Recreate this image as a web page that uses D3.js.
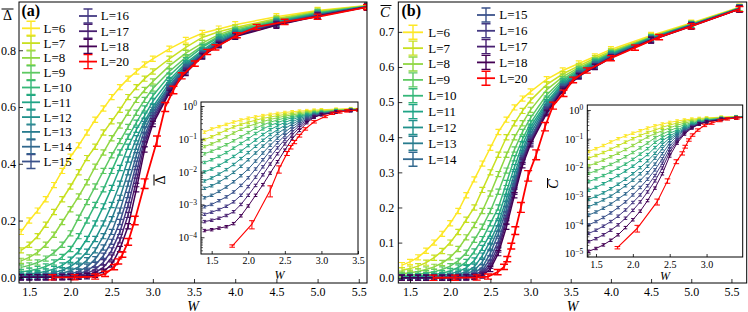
<!DOCTYPE html>
<html><head><meta charset="utf-8">
<script src="https://cdn.jsdelivr.net/npm/d3@7"></script>
<style>body{margin:0;background:#fff} svg{display:block} text{font-family:"Liberation Serif","LiberationSerif","DejaVu Serif",serif}</style>
</head><body><svg id="c" width="748" height="312"></svg>
<script>
// ---------------- DATA ----------------
const Wgrid = [1.4,1.5,1.6,1.7,1.8,1.9,2.0,2.1,2.2,2.3,2.4,2.5,2.6,2.7,2.8,2.9,3.0,3.2,3.4,3.6,3.8,4.0,4.5,5.0,5.6];
const Lvals = [6,7,8,9,10,11,12,13,14,15,16,17,18];

// panel (a): mean Delta
const dL6  = [.16,.20,.235,.275,.325,.375,.425,.465,.51,.555,.595,.635,.67,.70,.725,.75,.77,.805,.835,.86,.875,.89,.918,.94,.958];
const dL7  = [.095,.115,.145,.185,.23,.275,.32,.37,.42,.46,.51,.55,.59,.635,.67,.70,.725,.77,.81,.845,.865,.88,.912,.937,.957];
const dL8  = [.058,.07,.088,.115,.15,.195,.24,.285,.335,.39,.44,.49,.535,.58,.625,.66,.69,.745,.79,.825,.855,.875,.908,.934,.956];
const dL9  = [.035,.042,.052,.066,.087,.115,.155,.21,.265,.32,.375,.43,.48,.53,.58,.625,.665,.725,.775,.815,.85,.87,.905,.932,.955];
const dL10 = [.019,.023,.029,.038,.052,.072,.10,.145,.20,.255,.31,.375,.44,.495,.545,.595,.64,.71,.765,.81,.845,.866,.902,.93,.955];
const dL11 = [.0098,.012,.0155,.021,.029,.042,.062,.092,.135,.19,.25,.315,.385,.46,.52,.57,.62,.695,.755,.80,.84,.862,.90,.928,.954];
const dL12 = [.0052,.0064,.0084,.0115,.0165,.025,.038,.059,.09,.135,.19,.255,.33,.415,.49,.55,.60,.685,.75,.795,.835,.86,.898,.926,.954];
const dL13 = [.0031,.0037,.0048,.0066,.0095,.0145,.023,.037,.06,.095,.145,.205,.28,.37,.46,.54,.59,.675,.745,.79,.83,.857,.896,.925,.953];
const dL14 = [.0016,.0019,.0025,.0034,.0049,.0075,.012,.021,.037,.064,.105,.16,.235,.33,.43,.52,.58,.67,.74,.787,.827,.855,.894,.924,.953];
const dL15 = [.00085,.001,.0013,.0017,.0024,.0038,.0065,.012,.023,.043,.076,.125,.195,.29,.40,.50,.57,.665,.735,.785,.825,.853,.892,.923,.953];
const dL16 = [.0005,.00058,.0007,.00088,.0012,.0019,.0035,.0068,.014,.028,.053,.095,.16,.255,.37,.485,.56,.66,.73,.783,.823,.851,.891,.922,.952];
const dL17 = [.0003,.00033,.00038,.00046,.0006,.001,.0019,.0038,.008,.017,.035,.07,.13,.22,.34,.47,.55,.655,.725,.78,.82,.85,.89,.921,.952];
const dL18 = [.00016,.00017,.00019,.00021,.00026,.00045,.0009,.0019,.004,.009,.02,.045,.10,.18,.31,.45,.54,.65,.72,.778,.818,.848,.888,.92,.952];
const dRedW = [1.78,2.05,2.3,2.42,2.53,2.58,2.63,2.7,2.78,2.9,3.05,3.15,3.25,3.35,3.51,3.66,3.76,4.02,4.26,4.6,5.0,5.6];
const dRed   = [5.4e-5,2.5e-4,2.7e-3,.012,.036,.056,.08,.125,.20,.33,.48,.60,.66,.71,.753,.794,.81,.853,.882,.90,.918,.952];
const dRedErr= [4e-6,7e-5,1e-3,3e-3,5e-3,7e-3,9e-3,.012,.015,.017,.018,.016,.013,.011,.009,.008,.007,.006,.005,.004,.004,.003];

// panel (b): mean C
const cL6  = [.036,.045,.058,.077,.10,.125,.155,.19,.235,.28,.325,.37,.415,.45,.485,.51,.53,.565,.59,.61,.63,.65,.69,.725,.77];
const cL7  = [.021,.026,.033,.043,.057,.076,.10,.13,.165,.20,.25,.30,.35,.40,.44,.475,.505,.55,.58,.603,.625,.645,.687,.723,.769];
const cL8  = [.0115,.014,.018,.0235,.031,.042,.058,.082,.115,.15,.19,.24,.295,.35,.40,.44,.478,.535,.572,.598,.62,.642,.685,.722,.768];
const cL9  = [.0062,.0076,.0097,.0127,.017,.0235,.033,.048,.071,.108,.145,.19,.245,.305,.365,.415,.455,.52,.565,.594,.617,.64,.684,.721,.768];
const cL10 = [.0032,.004,.0052,.0069,.0094,.013,.019,.029,.045,.075,.11,.155,.20,.27,.34,.395,.44,.51,.56,.59,.615,.638,.683,.72,.767];
const cL11 = [.0016,.002,.0027,.0037,.0052,.0075,.011,.0175,.028,.049,.085,.125,.175,.245,.315,.38,.43,.50,.555,.587,.613,.636,.682,.72,.767];
const cL12 = [.00077,.00098,.0013,.0018,.0026,.0039,.006,.0098,.017,.031,.063,.105,.155,.225,.295,.365,.42,.495,.55,.584,.61,.634,.681,.719,.767];
const cL13 = [.00043,.00055,.00074,.001,.0015,.0023,.0036,.006,.011,.021,.045,.088,.14,.21,.28,.355,.41,.49,.546,.582,.608,.632,.68,.719,.766];
const cL14 = [.00022,.00028,.00038,.00053,.0008,.0012,.002,.0035,.0065,.013,.03,.07,.125,.195,.27,.345,.40,.485,.543,.58,.606,.63,.679,.718,.766];
const cL15 = [.0001,.00013,.00018,.00026,.0004,.00063,.0011,.002,.0039,.0082,.02,.055,.105,.18,.26,.34,.395,.48,.54,.578,.604,.629,.678,.718,.766];
const cL16 = [5e-5,6.5e-5,9e-5,.00013,.0002,.00033,.0006,.0011,.0023,.0052,.014,.043,.092,.17,.25,.335,.39,.476,.537,.576,.602,.628,.677,.717,.765];
const cL17 = [2.6e-5,3.3e-5,4.5e-5,6.5e-5,.0001,.00017,.00032,.00063,.0014,.0034,.0095,.034,.08,.16,.245,.33,.385,.472,.535,.575,.601,.627,.677,.717,.765];
const cL18 = [1.2e-5,1.5e-5,2e-5,2.9e-5,4.5e-5,8e-5,.00015,.0003,.0007,.0019,.006,.025,.07,.145,.235,.32,.38,.468,.532,.573,.60,.626,.676,.716,.765];
const cRedW = [1.79,2.06,2.33,2.47,2.59,2.67,2.71,2.76,2.81,2.88,2.97,3.07,3.18,3.28,3.41,3.53,3.7,4.0,4.3,4.6,5.0,5.6];
const cRed   = [1.6e-5,7.6e-5,6.4e-4,3.4e-3,.016,.031,.053,.09,.134,.2,.29,.35,.43,.49,.525,.563,.59,.625,.655,.685,.716,.765];
const cRedErr= [1.5e-6,2e-5,1.5e-4,6e-4,2.5e-3,4e-3,6e-3,8e-3,.011,.014,.015,.014,.012,.01,.009,.008,.007,.006,.005,.004,.004,.003];

const relErr = 0.012;   // relative error of the L = 6..18 series
const mainXTicks = [1.5,2.0,2.5,3.0,3.5,4.0,4.5,5.0,5.5];
const aYTicks = [0.0,0.2,0.4,0.6,0.8];
const bYTicks = [0.0,0.1,0.2,0.3,0.4,0.5,0.6,0.7];
const aInsetXTicks = [1.5,2.0,2.5,3.0,3.5];
const bInsetXTicks = [1.5,2.0,2.5,3.0];
const aInsetYExp = [0,-1,-2,-3,-4];
const bInsetYExp = [0,-1,-2,-3,-4,-5];

// ---------------- DRAW ----------------
const svg = d3.select("#c");
const FONT = 'Liberation Serif, LiberationSerif, DejaVu Serif, serif';
const colorOf = i => d3.interpolateViridis(1 - i / 12);

function buildSeries(arrs, redW, red, redErr) {
  const s = arrs.map((a, i) => ({
    name: "L=" + Lvals[i], color: colorOf(i), red: false,
    pts: a.map((v, j) => ({ w: Wgrid[j], v, e: v * relErr }))
  }));
  s.push({ name: "L=20", color: "#ff0000", red: true,
    pts: red.map((v, j) => ({ w: redW[j], v, e: redErr[j] })) });
  return s;
}
const seriesA = buildSeries([dL6,dL7,dL8,dL9,dL10,dL11,dL12,dL13,dL14,dL15,dL16,dL17,dL18], dRedW, dRed, dRedErr);
const seriesB = buildSeries([cL6,cL7,cL8,cL9,cL10,cL11,cL12,cL13,cL14,cL15,cL16,cL17,cL18], cRedW, cRed, cRedErr);

let clipN = 0;
function drawData(g, series, x, y, isLog, st) {
  const [x0, x1] = x.range(), [y0, y1] = y.range();
  const id = "clip" + (clipN++);
  svg.append("clipPath").attr("id", id).append("rect")
    .attr("x", x0).attr("y", y1).attr("width", x1 - x0).attr("height", y0 - y1);
  const dg = g.append("g").attr("clip-path", `url(#${id})`);
  const line = d3.line().x(p => x(p.w)).y(p => y(p.v));
  series.forEach(s => {
    const sg = dg.append("g");
    sg.append("path").attr("d", line(s.pts)).attr("fill", "none")
      .attr("stroke", s.color).attr("stroke-width", s.red ? st.redW : st.lw);
    let d = "";
    s.pts.forEach(p => {
      const cx = x(p.w), cy = y(p.v);
      const lo = isLog ? Math.max(p.v - p.e, p.v * 0.3) : p.v - p.e;
      let top = Math.min(y(p.v + p.e), cy - st.hmin);
      let bot = Math.max(y(lo), cy + st.hmin);
      const c = s.red ? st.capR : st.cap;
      d += `M${cx},${top}V${bot}M${cx - c},${top}H${cx + c}M${cx - c},${bot}H${cx + c}`;
    });
    sg.append("path").attr("d", d).attr("fill", "none")
      .attr("stroke", s.color).attr("stroke-width", s.red ? st.ebwR : st.ebw);
  });
}

function styleAxis(ax, size) {
  ax.attr("font-family", FONT).attr("font-size", size);
  ax.select(".domain").remove();
  ax.selectAll(".tick line").attr("stroke", "#000").attr("stroke-width", 0.8);
  ax.selectAll("text").attr("fill", "#000").style("font-family", FONT);
}

function frame(g, x, y) {
  const [x0, x1] = x.range(), [y0, y1] = y.range();
  g.append("rect").attr("x", x0).attr("y", y1).attr("width", x1 - x0).attr("height", y0 - y1)
    .attr("fill", "none").attr("stroke", "#000").attr("stroke-width", 1);
}

function barLabel(g, cx, cy, ch, italic, size, rotate, barHalf, barDy) {
  const gg = g.append("g").attr("transform", `translate(${cx},${cy}) rotate(${rotate})`);
  gg.append("text").attr("x", 0).attr("y", 0).attr("text-anchor", "middle")
    .attr("font-size", size).attr("font-style", italic ? "italic" : "normal").text(ch);
  gg.append("line").attr("x1", -barHalf + (italic ? 1 : 0)).attr("x2", barHalf + (italic ? 1 : 0))
    .attr("y1", barDy).attr("y2", barDy).attr("stroke", "#000").attr("stroke-width", 1);
}

function mainPanel(o) {
  const g = svg.append("g");
  const x = d3.scaleLinear().domain(o.xd).range(o.xr);
  const y = d3.scaleLinear().domain(o.yd).range(o.yr);
  drawData(g, o.series, x, y, false, { lw: 1.5, redW: 1.8, cap: 3, capR: 4, hmin: 2.6, ebw: 1.2, ebwR: 1.4 });
  const ax = g.append("g").attr("transform", `translate(0,${o.yr[0]})`)
    .call(d3.axisBottom(x).tickValues(mainXTicks).tickFormat(d3.format(".1f")).tickSize(-4).tickPadding(4));
  styleAxis(ax, 12);
  const ay = g.append("g").attr("transform", `translate(${o.xr[0]},0)`)
    .call(d3.axisLeft(y).tickValues(o.yt).tickFormat(d3.format(".1f")).tickSize(-4).tickPadding(o.ypad));
  styleAxis(ay, 12);
  frame(g, x, y);
  g.append("text").attr("x", (o.xr[0] + o.xr[1]) / 2).attr("y", 310.5).attr("text-anchor", "middle")
    .attr("font-size", 14).attr("font-style", "italic").text("W");
  return g;
}

function logTicks(ax, fs) {
  ax.selectAll(".tick text").each(function (d) {
    const t = d3.select(this); t.text("");
    const e = Math.round(Math.log10(d));
    t.append("tspan").text("10");
    t.append("tspan").attr("dy", "-0.45em").attr("font-size", fs * 0.72)
      .text(e < 0 ? "\u2212" + (-e) : String(e));
  });
}

function insetPanel(o) {
  const g = svg.append("g");
  const x = d3.scaleLinear().domain(o.xd).range(o.xr);
  const y = d3.scaleLog().domain(o.yd).range(o.yr);
  g.append("rect").attr("x", o.xr[0]).attr("y", o.yr[1]).attr("width", o.xr[1] - o.xr[0])
    .attr("height", o.yr[0] - o.yr[1]).attr("fill", "#fff");
  drawData(g, o.series, x, y, true, { lw: 1.0, redW: 1.1, cap: 1.8, capR: 2.8, hmin: 1.2, ebw: 1.0, ebwR: 1.0 });
  const ax = g.append("g").attr("transform", `translate(0,${o.yr[0]})`)
    .call(d3.axisBottom(x).tickValues(o.xt).tickFormat(d3.format(".1f")).tickSize(-3).tickPadding(o.xpad));
  styleAxis(ax, 10);
  const majors = o.ye.map(e => Math.pow(10, e));
  const ay = g.append("g").attr("transform", `translate(${o.xr[0]},0)`)
    .call(d3.axisLeft(y).tickValues(majors).tickSize(-3.5).tickPadding(4));
  styleAxis(ay, 10.5);
  logTicks(ay, 10.5);
  const minors = [];
  for (let e = -6; e <= 0; e++) for (let m = 2; m <= 9; m++) {
    const v = m * Math.pow(10, e);
    if (v > o.yd[0] && v < o.yd[1]) minors.push(v);
  }
  const am = g.append("g").attr("transform", `translate(${o.xr[0]},0)`)
    .call(d3.axisLeft(y).tickValues(minors).tickFormat("").tickSize(-2));
  styleAxis(am, 10);
  am.selectAll(".tick line").attr("stroke-width", 0.6);
  frame(g, x, y);
  g.append("text").attr("x", (o.xr[0] + o.xr[1]) / 2).attr("y", o.wy).attr("text-anchor", "middle")
    .attr("font-size", 12).attr("font-style", "italic").text("W");
  return g;
}

function legend(g, items, lx0, lx1, tx, yStart, dy) {
  items.forEach((s, i) => {
    const yy = yStart + i * dy, cx = (lx0 + lx1) / 2;
    g.append("line").attr("x1", lx0).attr("x2", lx1).attr("y1", yy).attr("y2", yy)
      .attr("stroke", s.color).attr("stroke-width", 1.8);
    g.append("path").attr("d", `M${cx},${yy - 7}V${yy + 7}M${cx - 4.5},${yy - 7}H${cx + 4.5}M${cx - 4.5},${yy + 7}H${cx + 4.5}`)
      .attr("stroke", s.color).attr("stroke-width", 1.4).attr("fill", "none");
    g.append("text").attr("x", tx).attr("y", yy + 4.4).attr("font-size", 13).text(s.name);
  });
}

// ---- panel (a)
const gA = mainPanel({ series: seriesA, xd: [1.375, 5.6], xr: [19, 367], yd: [-0.02, 0.97], yr: [283, 2], yt: aYTicks, ypad: 3 });
insetPanel({ series: seriesA, xd: [1.354, 3.5], xr: [201, 358], yd: [Math.pow(10, -4.51), Math.pow(10, 0.122)], yr: [254, 102],
  xt: aInsetXTicks, ye: aInsetYExp, xpad: 3, wy: 278.5 });
legend(gA, seriesA.slice(0, 10), 22, 40, 43.5, 28.3, 14.8);
legend(gA, seriesA.slice(10), 79, 97, 100.7, 16, 15.2);
barLabel(svg, 7.5, 20, "\u0394", false, 14, 0, 6, -11);
svg.append("text").attr("x", 21.5).attr("y", 15.5).attr("font-size", 16).attr("font-weight", "bold").text("(a)");
barLabel(svg, 165, 180, "\u0394", false, 14, -90, 5.5, -11);

// ---- panel (b)
const gB = mainPanel({ series: seriesB, xd: [1.354, 5.69], xr: [398.3, 746.7], yd: [-0.015, 0.785], yr: [283, 2], yt: bYTicks, ypad: 4 });
insetPanel({ series: seriesB, xd: [1.382, 3.49], xr: [587.3, 742.7], yd: [Math.pow(10, -5.12), Math.pow(10, 0.174)], yr: [257, 105],
  xt: bInsetXTicks, ye: bInsetYExp, xpad: 3.5, wy: 280 });
legend(gB, seriesB.slice(0, 9), 403, 423, 428.3, 32.3, 15.86);
legend(gB, seriesB.slice(9), 477, 495, 499.3, 15, 15.8);
barLabel(svg, 385, 17, "C", true, 15, 0, 5.5, -11.5);
svg.append("text").attr("x", 401.5).attr("y", 15.5).attr("font-size", 16).attr("font-weight", "bold").text("(b)");
barLabel(svg, 558, 184, "C", true, 14, -90, 5, -10.5);
</script>
</body></html>
